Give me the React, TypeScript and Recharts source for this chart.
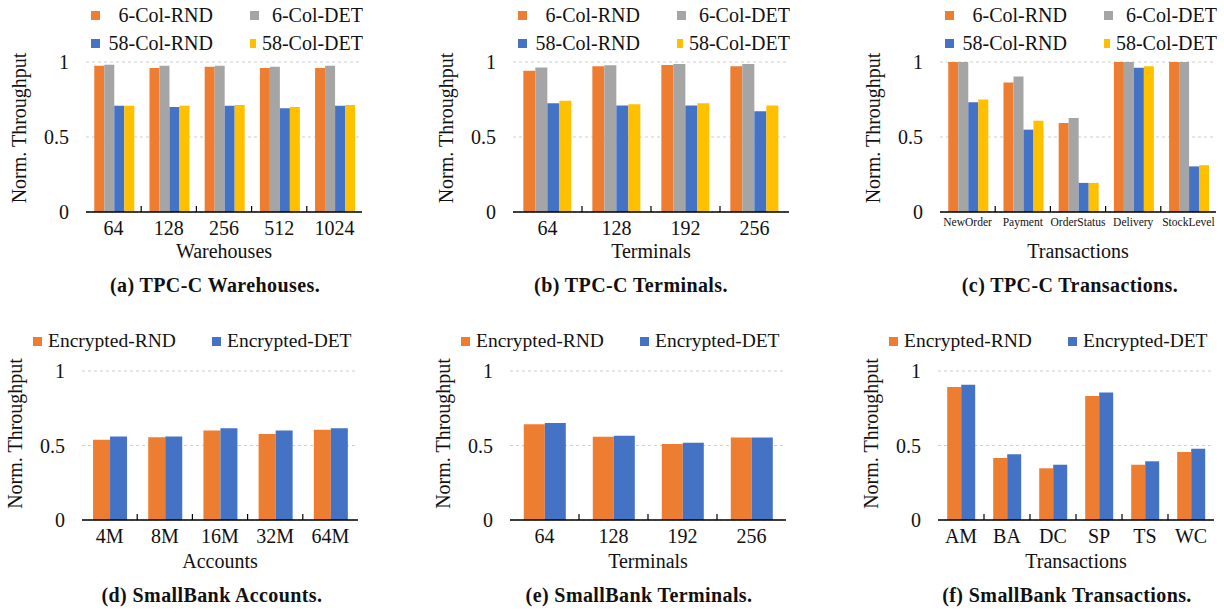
import React from 'react';
import { BarChart, Bar, XAxis, YAxis, CartesianGrid, ReferenceArea } from 'recharts';

// ---- data ----
const warehouses = ['64', '128', '256', '512', '1024'];
const whRnd6 = [0.975, 0.96, 0.969, 0.96, 0.96];
const whDet6 = [0.982, 0.975, 0.975, 0.969, 0.975];
const whRnd58 = [0.708, 0.7, 0.708, 0.692, 0.708];
const whDet58 = [0.708, 0.708, 0.714, 0.7, 0.714];

const terminals = ['64', '128', '192', '256'];
const tmRnd6 = [0.942, 0.971, 0.98, 0.971];
const tmDet6 = [0.964, 0.978, 0.987, 0.987];
const tmRnd58 = [0.725, 0.71, 0.71, 0.672];
const tmDet58 = [0.741, 0.719, 0.725, 0.71];

const tpccTxns = ['NewOrder', 'Payment', 'OrderStatus', 'Delivery', 'StockLevel'];
const txRnd6 = [1, 0.864, 0.594, 1, 1];
const txDet6 = [1, 0.904, 0.627, 1, 1];
const txRnd58 = [0.732, 0.549, 0.194, 0.962, 0.304];
const txDet58 = [0.75, 0.609, 0.194, 0.971, 0.312];

const accounts = ['4M', '8M', '16M', '32M', '64M'];
const accRnd = [0.539, 0.555, 0.6, 0.577, 0.606];
const accDet = [0.561, 0.561, 0.615, 0.6, 0.615];

const sbTerminals = ['64', '128', '192', '256'];
const sbtRnd = [0.642, 0.559, 0.51, 0.553];
const sbtDet = [0.651, 0.566, 0.519, 0.553];

const sbTxns = ['AM', 'BA', 'DC', 'SP', 'TS', 'WC'];
const sbxRnd = [0.893, 0.416, 0.347, 0.832, 0.371, 0.456];
const sbxDet = [0.908, 0.441, 0.371, 0.855, 0.394, 0.479];

const yTicks = [0, 0.5, 1];

// ---- styling ----
const FONT = '"Liberation Serif", "Times New Roman", serif';
const ORANGE = '#ED7D31';
const GRAY = '#A5A5A5';
const BLUE = '#4472C4';
const YELLOW = '#FFC000';

const PLOT_W = 276;
const Y_AXIS_W = 70;
const M_LEFT = 16;
const M_RIGHT = 8;
const X_AXIS_H = 50;
const TICK_SIZE = 6;

type Series = { name: string; values: number[]; color: string };

const tpcc = (a: number[], b: number[], c: number[], d: number[]): Series[] => [
  { name: '6-Col-RND', values: a, color: ORANGE },
  { name: '6-Col-DET', values: b, color: GRAY },
  { name: '58-Col-RND', values: c, color: BLUE },
  { name: '58-Col-DET', values: d, color: YELLOW },
];
const smallbank = (a: number[], b: number[]): Series[] => [
  { name: 'Encrypted-RND', values: a, color: ORANGE },
  { name: 'Encrypted-DET', values: b, color: BLUE },
];

// category label plus a small inward tick at the left edge of each band
const makeTick = (fontSize: number, margin: number, count: number) => (props: any) => {
  const { x, y, payload, index } = props;
  const axisY = y - TICK_SIZE - margin;
  const half = payload?.offset ?? PLOT_W / count / 2;
  return (
    <g>
      {index > 0 && (
        <line x1={x - half} x2={x - half} y1={axisY} y2={axisY - 6} stroke="#000" strokeWidth={1.2} />
      )}
      <text x={x} y={y} dy="0.71em" textAnchor="middle" fontSize={fontSize} fontFamily={FONT} fill="#111">
        {payload.value}
      </text>
    </g>
  );
};

type PanelProps = {
  categories: string[];
  series: Series[];
  plotLeft: number;
  rowTop: number;
  plotTop: number;
  plotH: number;
  xTitle: string;
  tickFont: number;
  tickMargin: number;
  titleOffset: number;
  catGap: string;
  yTitleDy: number;
  caption: string;
  captionX: number;
  captionY: number;
  legend: 'grid' | 'row';
};

const Panel: React.FC<PanelProps> = (p) => {
  const data = p.categories.map((c, i) => {
    const row: Record<string, string | number> = { cat: c };
    p.series.forEach((s, k) => (row['s' + k] = s.values[i]));
    return row;
  });
  const mTop = p.plotTop - p.rowTop;
  const height = mTop + p.plotH + X_AXIS_H + 8;
  const width = M_LEFT + Y_AXIS_W + PLOT_W + M_RIGHT;

  const legendItems =
    p.legend === 'grid'
      ? p.series.map((s, k) => ({
          s,
          left: p.plotLeft + (k % 2 === 0 ? 5 : 164),
          top: k < 2 ? 15 : 43,
          width: k % 2 === 0 ? 122 : 113,
        }))
      : p.series.map((s, k) => ({
          s,
          left: p.plotLeft + (k === 0 ? -49 : 130),
          top: p.plotTop - 30,
          width: undefined as number | undefined,
        }));

  return (
    <>
      <div style={{ position: 'absolute', left: p.plotLeft - M_LEFT - Y_AXIS_W, top: p.rowTop }}>
        <BarChart
          width={width}
          height={height}
          data={data}
          margin={{ top: mTop, left: M_LEFT, right: M_RIGHT, bottom: 8 }}
          barCategoryGap={p.catGap}
          barGap={0}
        >
          <CartesianGrid vertical={false} stroke="#cfcfcf" strokeDasharray="3 3" />
          <XAxis
            dataKey="cat"
            interval={0}
            height={X_AXIS_H}
            tickSize={TICK_SIZE}
            tickMargin={p.tickMargin}
            tickLine={false}
            axisLine={{ stroke: '#000', strokeWidth: 1.5 }}
            tick={makeTick(p.tickFont, p.tickMargin, p.categories.length)}
            label={{
              value: p.xTitle,
              position: 'insideBottom',
              offset: p.titleOffset,
              fontSize: 20,
              fontFamily: FONT,
              fill: '#111',
            }}
          />
          <YAxis
            type="number"
            domain={[0, 1]}
            ticks={yTicks}
            width={Y_AXIS_W}
            tickLine={false}
            axisLine={false}
            tickMargin={11}
            tick={{ fontSize: 20, fontFamily: FONT, fill: '#111' }}
            label={{
              value: 'Norm. Throughput',
              angle: -90,
              position: 'center',
              dx: -32,
              dy: p.yTitleDy,
              fontSize: 20,
              fontFamily: FONT,
              fill: '#111',
            }}
          />
          {p.series.map((s, k) => (
            <Bar key={s.name} dataKey={'s' + k} name={s.name} fill={s.color} isAnimationActive={false} />
          ))}
          <ReferenceArea fill="none" stroke="#000" strokeWidth={1.2} />
        </BarChart>
      </div>
      {legendItems.map(({ s, left, top, width: w }) => (
        <div
          key={s.name}
          style={{
            position: 'absolute',
            left,
            top: top - 11,
            height: 22,
            width: w,
            display: 'flex',
            alignItems: 'center',
            justifyContent: w ? 'space-between' : 'flex-start',
            fontFamily: FONT,
            fontSize: p.legend === 'grid' ? 20 : 19.5,
            color: '#111',
            whiteSpace: 'nowrap',
          }}
        >
          <span style={{ width: 9, height: 9, background: s.color, display: 'inline-block', marginRight: 6 }} />
          <span>{s.name}</span>
        </div>
      ))}
      <div
        style={{
          position: 'absolute',
          left: p.captionX,
          top: p.captionY - 12,
          transform: 'translateX(-50%)',
          fontFamily: FONT,
          fontWeight: 'bold',
          fontSize: 20,
          letterSpacing: 0.4,
          color: '#111',
          whiteSpace: 'nowrap',
          lineHeight: '24px',
        }}
      >
        {p.caption}
      </div>
    </>
  );
};

const top = { rowTop: 0, plotTop: 62, plotH: 150, captionY: 285, yTitleDy: -9, legend: 'grid' as const };
const bottom = { rowTop: 300, plotTop: 371, plotH: 149, captionY: 595, yTitleDy: -12, legend: 'row' as const };

const App: React.FC = () => (
  <div
    style={{
      position: 'absolute',
      left: 0,
      top: 0,
      width: 1224,
      height: 613,
      background: '#fff',
      overflow: 'hidden',
    }}
  >
    <Panel
      {...top}
      categories={warehouses}
      series={tpcc(whRnd6, whDet6, whRnd58, whDet58)}
      plotLeft={86}
      xTitle="Warehouses"
      tickFont={20}
      tickMargin={3}
      titleOffset={4}
      catGap="15%"
      caption="(a) TPC-C Warehouses."
      captionX={215}
    />
    <Panel
      {...top}
      categories={terminals}
      series={tpcc(tmRnd6, tmDet6, tmRnd58, tmDet58)}
      plotLeft={513}
      xTitle="Terminals"
      tickFont={20}
      tickMargin={3}
      titleOffset={4}
      catGap="15%"
      caption="(b) TPC-C Terminals."
      captionX={631}
    />
    <Panel
      {...top}
      categories={tpccTxns}
      series={tpcc(txRnd6, txDet6, txRnd58, txDet58)}
      plotLeft={940}
      xTitle="Transactions"
      tickFont={11.5}
      tickMargin={0}
      titleOffset={4}
      catGap="15%"
      caption="(c) TPC-C Transactions."
      captionX={1070}
    />
    <Panel
      {...bottom}
      categories={accounts}
      series={smallbank(accRnd, accDet)}
      plotLeft={82}
      xTitle="Accounts"
      tickFont={20}
      tickMargin={3}
      titleOffset={2}
      catGap="20%"
      caption="(d) SmallBank Accounts."
      captionX={212}
    />
    <Panel
      {...bottom}
      categories={sbTerminals}
      series={smallbank(sbtRnd, sbtDet)}
      plotLeft={510}
      xTitle="Terminals"
      tickFont={20}
      tickMargin={3}
      titleOffset={2}
      catGap="20%"
      caption="(e) SmallBank Terminals."
      captionX={639}
    />
    <Panel
      {...bottom}
      categories={sbTxns}
      series={smallbank(sbxRnd, sbxDet)}
      plotLeft={938}
      xTitle="Transactions"
      tickFont={20}
      tickMargin={3}
      titleOffset={2}
      catGap="20%"
      caption="(f) SmallBank Transactions."
      captionX={1067}
    />
  </div>
);

export default App;
